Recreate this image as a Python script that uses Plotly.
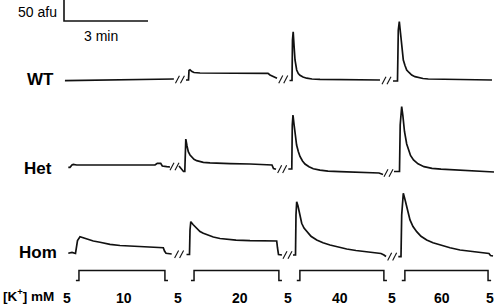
import plotly.graph_objects as go

# ---------------- data (time in min, change in fluorescence in afu) ----------------
ROW_NAMES = ["WT", "Het", "Hom"]

WT_T1 = [2.32, 2.68, 3.04, 3.39, 3.75, 4.11, 4.46, 4.82, 5.18, 5.54, 5.89, 6.21]
WT_V1 = [-1.4, -1.0, -0.5, -0.7, 0.0, 0.2, 0.0, 0.7, 1.0, 1.2, 1.4, 2.4]
WT_T2 = [6.643, 6.732, 6.75, 6.786, 6.857, 6.929, 7.143, 7.857, 8.571, 9.286, 9.571, 9.643, 9.75, 9.893]
WT_V2 = [0, 0, 22.6, 24.3, 20.2, 17.9, 16.7, 16.2, 16.0, 16.2, 16.0, 11.9, 7.9, 4.0]
WT_T3 = [10.339, 10.429, 10.446, 10.471, 10.5, 10.536, 10.596, 10.654, 10.714, 10.821, 10.954, 11.143, 11.429, 12.143, 12.857, 13.571]
WT_V3 = [-1.2, -1.2, 95.2, 115.0, 83.3, 47.6, 23.8, 15.5, 11.2, 7.1, 4.3, 2.4, 1.4, 0.7, 0.5, 0]
WT_T4 = [14.036, 14.196, 14.225, 14.261, 14.304, 14.346, 14.404, 14.464, 14.525, 14.607, 14.704, 14.821, 14.939, 15.107, 15.296, 15.714, 16.357, 16.964, 17.571]
WT_V4 = [-2.4, -2.4, 119.0, 138.8, 111.9, 87.4, 47.6, 34.5, 23.8, 17.9, 11.9, 7.9, 5.5, 3.6, 2.4, 1.7, 1.7, 1.0, 0]

HET_T1 = [2.439, 2.5, 2.571, 2.618, 2.739, 3.571, 4.75, 5.536, 5.618, 5.739, 5.796, 5.954, 6.071]
HET_V1 = [1.7, 1.7, 7.1, 8.8, 7.1, 6.4, 7.1, 7.1, 11.2, 11.2, 4.8, 3.1, 2.4]
HET_T2 = [6.393, 6.554, 6.6, 6.618, 6.636, 6.679, 6.725, 6.786, 6.846, 6.929, 7.025, 7.143, 7.261, 7.5, 7.739, 8.214, 8.929, 9.464, 9.714, 9.768, 9.857]
HET_V2 = [4.8, -8.3, -8.3, 54.8, 69.0, 52.4, 38.8, 31.0, 25.5, 20.7, 17.4, 15.0, 13.6, 12.1, 11.2, 10.5, 9.5, 7.9, 7.1, -1.2, -3.1]
HET_T3 = [10.296, 10.421, 10.439, 10.464, 10.5, 10.536, 10.593, 10.654, 10.714, 10.804, 10.893, 11.036, 11.189, 11.429, 11.714, 12.143, 12.679, 13.214, 13.536, 13.679]
HET_V3 = [-2.4, -2.4, 102.4, 126.2, 104.8, 83.3, 54.8, 39.3, 27.4, 16.7, 9.5, 2.9, -1.9, -5.2, -7.6, -8.8, -10.0, -11.0, -11.9, -15.5]
HET_T4 = [14.071, 14.268, 14.293, 14.346, 14.386, 14.446, 14.525, 14.589, 14.661, 14.768, 14.929, 15.143, 15.429, 15.75, 16.25, 16.786, 17.25, 17.643]
HET_V4 = [-8.3, -8.3, 102.4, 146.0, 126.2, 86.9, 57.1, 42.9, 29.8, 19.0, 10.0, 3.1, -0.7, -2.9, -4.8, -6.7, -7.9, -9.5]

HOM_T1 = [2.439, 2.571, 2.696, 2.732, 2.768, 2.857, 3.0, 3.143, 3.332, 3.571, 3.929, 4.286, 4.761, 5.118, 5.536, 5.832, 5.875, 5.929, 6.132]
HOM_V1 = [1.7, 3.6, 1.2, 19.0, 32.1, 41.2, 38.1, 34.5, 31.0, 27.9, 23.1, 20.2, 18.3, 16.7, 15.7, 15.0, 7.1, 1.7, 0]
HOM_T2 = [6.661, 6.768, 6.786, 6.814, 6.893, 7.025, 7.143, 7.261, 7.429, 7.618, 7.857, 8.096, 8.429, 8.929, 9.464, 9.882, 9.911, 9.946, 10.071]
HOM_V2 = [-1.2, -1.2, 57.1, 76.9, 70.2, 60.0, 53.6, 49.3, 44.8, 40.5, 36.9, 34.5, 32.9, 31.7, 31.0, 31.0, 14.3, -1.2, -2.4]
HOM_T3 = [10.464, 10.554, 10.571, 10.596, 10.643, 10.689, 10.732, 10.775, 10.857, 10.954, 11.107, 11.311, 11.536, 11.786, 12.071, 12.382, 12.714, 13.096, 13.393, 13.607, 13.714, 13.786]
HOM_V3 = [-2.4, -2.4, 92.9, 124.5, 114.3, 100.7, 85.7, 73.1, 61.9, 53.1, 42.1, 33.3, 26.7, 21.4, 16.2, 11.9, 8.3, 5.5, 3.1, 1.2, -2.4, -6.0]
HOM_T4 = [14.225, 14.321, 14.346, 14.404, 14.464, 14.525, 14.582, 14.643, 14.75, 14.882, 15.036, 15.239, 15.464, 15.714, 16.071, 16.429, 16.893, 17.382, 17.464, 17.518, 17.607]
HOM_V4 = [-6.4, -6.4, 92.9, 144.5, 129.8, 112.6, 96.4, 81.0, 65.5, 53.1, 42.1, 33.3, 26.7, 21.4, 14.8, 9.5, 5.2, 1.7, 1.2, -3.6, -4.8]

# K+ application (min) and labels
STIM_ON = [2.82, 6.93, 10.71, 14.46]
STIM_OFF = [5.89, 9.96, 13.71, 17.43]
K_LABELS = ["5", "10", "5", "20", "5", "40", "5", "60", "5"]
K_LABEL_T = [2.39, 4.43, 6.36, 8.57, 10.29, 12.14, 14.0, 15.79, 17.5]

SCALE_AFU = 50
SCALE_MIN = 3

# ---------------- layout constants ----------------
W, H = 496, 305
PX_PER_MIN = 28.0
PX_PER_AFU = 0.42
X_MAX = W / PX_PER_MIN
Y_MAX = H / PX_PER_AFU
ROW_BASE = {"WT": (H - 80) / PX_PER_AFU, "Het": (H - 168) / PX_PER_AFU, "Hom": (H - 254) / PX_PER_AFU}
STIM_LOW = (H - 280.5) / PX_PER_AFU
STIM_HIGH = (H - 270.5) / PX_PER_AFU
STIM_LEAD = 0.11
LINE_COLOR = "#111111"
FONT = "Arial, Liberation Sans, sans-serif"

SEGMENTS = {
    "WT": [(WT_T1, WT_V1), (WT_T2, WT_V2), (WT_T3, WT_V3), (WT_T4, WT_V4)],
    "Het": [(HET_T1, HET_V1), (HET_T2, HET_V2), (HET_T3, HET_V3), (HET_T4, HET_V4)],
    "Hom": [(HOM_T1, HOM_V1), (HOM_T2, HOM_V2), (HOM_T3, HOM_V3), (HOM_T4, HOM_V4)],
}
LABEL_POS = {"WT": (40.5, 79), "Het": (37.5, 168.5), "Hom": (37.5, 252.5)}

fig = go.Figure()

for name in ROW_NAMES:
    base = ROW_BASE[name]
    segs = SEGMENTS[name]
    for t, v in segs:
        fig.add_trace(go.Scatter(x=t, y=[base + a for a in v], mode="lines",
                                 line=dict(color=LINE_COLOR, width=1.7),
                                 hoverinfo="skip", showlegend=False))
    # break marks "//" between segments
    bx, by = [], []
    for k in range(len(segs) - 1):
        t0, v0 = segs[k][0][-1], segs[k][1][-1]
        t1, v1 = segs[k + 1][0][0], segs[k + 1][1][0]
        cx = (t0 + t1) / 2
        cy = base + (v0 + v1) / 2
        for i in range(2):
            xa = cx + (-4.5 + 5 * i) / PX_PER_MIN
            xb = cx + (-0.5 + 5 * i) / PX_PER_MIN
            bx += [xa, xb, None]
            by += [cy - 3.8 / PX_PER_AFU, cy + 3.8 / PX_PER_AFU, None]
    fig.add_trace(go.Scatter(x=bx, y=by, mode="lines", line=dict(color=LINE_COLOR, width=1.1),
                             hoverinfo="skip", showlegend=False))
    lx, ly = LABEL_POS[name]
    fig.add_annotation(x=lx / PX_PER_MIN, y=(H - ly) / PX_PER_AFU, text="<b>%s</b>" % name,
                       showarrow=False, xanchor="center", yanchor="middle",
                       font=dict(family=FONT, size=17, color="#000"))

# stimulus bars
sx, sy = [], []
for on, off in zip(STIM_ON, STIM_OFF):
    sx += [on - STIM_LEAD, on, on, off, off, off + STIM_LEAD, None]
    sy += [STIM_LOW, STIM_LOW, STIM_HIGH, STIM_HIGH, STIM_LOW, STIM_LOW, None]
fig.add_trace(go.Scatter(x=sx, y=sy, mode="lines", line=dict(color=LINE_COLOR, width=1.5),
                         hoverinfo="skip", showlegend=False))

label_y = (H - 297.5) / PX_PER_AFU
for t, lab in zip(K_LABEL_T, K_LABELS):
    fig.add_annotation(x=t, y=label_y, text="<b>%s</b>" % lab, showarrow=False,
                       xanchor="center", yanchor="middle",
                       font=dict(family=FONT, size=14, color="#000"))
fig.add_annotation(x=28 / PX_PER_MIN, y=(H - 295) / PX_PER_AFU, text="<b>[K<sup>+</sup>] mM</b>",
                   showarrow=False, xanchor="center", yanchor="middle", borderpad=0,
                   font=dict(family=FONT, size=13.5, color="#000"))

# scale bar
cx0 = 64 / PX_PER_MIN
cy0 = (H - 21) / PX_PER_AFU
fig.add_trace(go.Scatter(x=[cx0, cx0, cx0 + SCALE_MIN], y=[cy0 + SCALE_AFU, cy0, cy0], mode="lines",
                         line=dict(color=LINE_COLOR, width=1.6), hoverinfo="skip", showlegend=False))
fig.add_annotation(x=cx0 - 5 / PX_PER_MIN, y=cy0 + 0.45 * SCALE_AFU, text="%d afu" % SCALE_AFU,
                   showarrow=False, xanchor="right", yanchor="middle",
                   font=dict(family=FONT, size=14, color="#000"))
fig.add_annotation(x=100.8 / PX_PER_MIN, y=(H - 35.5) / PX_PER_AFU, text="%d min" % SCALE_MIN,
                   showarrow=False, xanchor="center", yanchor="middle",
                   font=dict(family=FONT, size=14, color="#000"))

fig.update_layout(
    width=W, height=H, margin=dict(l=0, r=0, t=0, b=0),
    paper_bgcolor="white", plot_bgcolor="white",
    xaxis=dict(range=[0, X_MAX], visible=False, fixedrange=True),
    yaxis=dict(range=[0, Y_MAX], visible=False, fixedrange=True),
    showlegend=False,
)
fig.write_html("out.html", config={"displayModeBar": False},
               post_script="document.body.style.margin='0';document.body.style.overflow='hidden';")
